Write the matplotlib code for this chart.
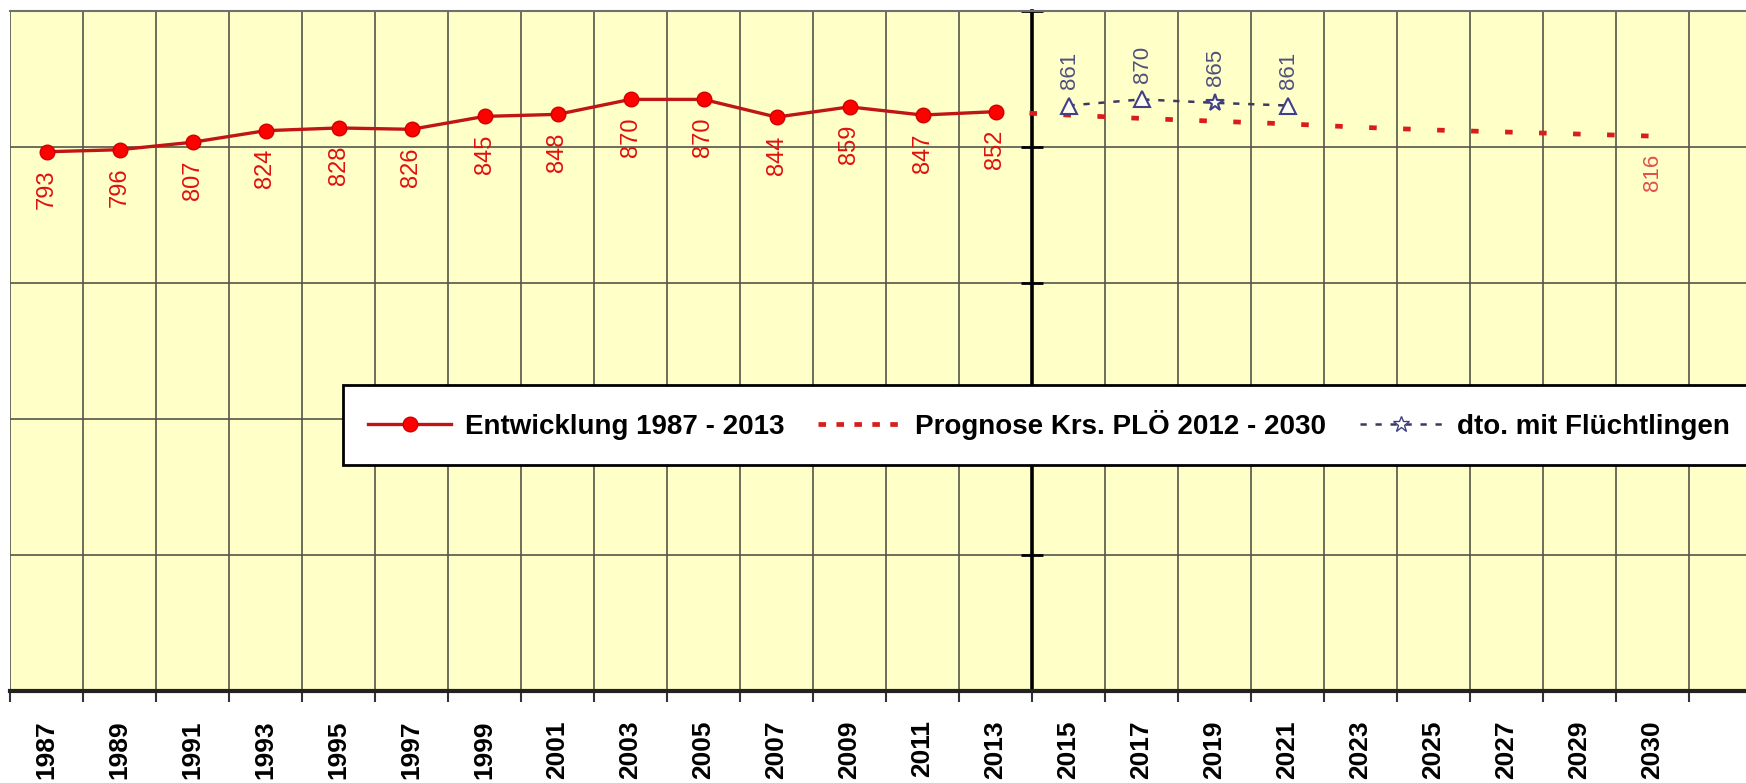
import numpy as np
import matplotlib
matplotlib.use('Agg')
import matplotlib.pyplot as plt
from matplotlib.lines import Line2D

# Kategorien (jede zweite Jahreszahl, letzte Spalte ohne Beschriftung)
jahre = ['1987', '1989', '1991', '1993', '1995', '1997', '1999', '2001',
         '2003', '2005', '2007', '2009', '2011', '2013', '2015', '2017',
         '2019', '2021', '2023', '2025', '2027', '2029', '2030', '']

# Entwicklung 1987 - 2013
entw_jahre = jahre[:14]
entwicklung = [793, 796, 807, 824, 828, 826, 845, 848, 870, 870, 844, 859, 847, 852]

# Prognose Krs. PLÖ 2012 - 2030
prog_jahre = ['2013', '2015', '2017', '2019', '2021', '2023', '2025', '2027', '2029', '2030']
prognose = [852, 847, 842, 838, 834, 829, 825, 822, 819, 816]

# dto. mit Flüchtlingen
flu_jahre = ['2015', '2017', '2019', '2021']
fluechtlinge = [861, 870, 865, 861]
flu_marker = ['^', '^', '*', '^']

plt.rcParams['font.family'] = ['Liberation Sans', 'DejaVu Sans']

W, H = 1746, 783
fig = plt.figure(figsize=(W / 100, H / 100), dpi=100)
fig.patch.set_facecolor('white')
ax = fig.add_axes([10 / W, (H - 691) / H, 1752 / W, 680 / H])
ax.set_facecolor('#FFFFC8')

pos = {j: i for i, j in enumerate(jahre)}
x_entw = [pos[j] for j in entw_jahre]
x_prog = [pos[j] for j in prog_jahre]
x_flu = [pos[j] for j in flu_jahre]

# Linien
ax.plot(x_prog, prognose, color='#D91C1C', lw=3.4, dashes=(1.6, 5.6),
        solid_capstyle='butt', dash_capstyle='butt', zorder=3)
ax.plot(x_flu, fluechtlinge, color='#3A3A60', lw=1.8, dashes=(2.5, 3.5), zorder=4)
for xi, yi, m in zip(x_flu, fluechtlinge, flu_marker):
    ax.plot(xi, yi, marker=m, ms=13 if m == '*' else 11, mfc='#FFFFF0',
            mec='#404088', mew=1.5, zorder=5)
ax.plot(x_entw, entwicklung, color='#C01515', lw=2.4, marker='o', ms=10.5,
        mfc='#FF0000', mec='#D00000', zorder=5)

# Datenbeschriftungen
for xi, yi in zip(x_entw, entwicklung):
    ax.annotate(str(yi), (xi, yi), xytext=(0, -13), textcoords='offset points',
                rotation=90, ha='center', va='top', fontsize=17, color='#E01010')
for xi, yi in zip(x_flu, fluechtlinge):
    ax.annotate(str(yi), (xi, yi), xytext=(1, 12), textcoords='offset points',
                rotation=90, ha='center', va='bottom', fontsize=16, color='#505080')
ax.annotate(str(prognose[-1]), (x_prog[-1], prognose[-1]), xytext=(0, -13),
            textcoords='offset points', rotation=90, ha='center', va='top',
            fontsize=16, color='#E05050')

# Achsen
ax.set_xlim(-0.5, len(jahre) - 0.5)
ax.set_ylim(0, 1000)
ax.set_xticks(range(len(jahre)))
ax.set_xticklabels(jahre, rotation=90, fontsize=19, fontweight='bold')
ax.set_xticks(np.arange(-0.5, len(jahre), 1), minor=True)
ax.tick_params(axis='x', which='major', length=0, pad=21)
ax.tick_params(axis='x', which='minor', length=8, width=1.5, direction='out',
               color='#333333')
ax.set_yticks(np.arange(0, 1001, 200))
ax.tick_params(axis='y', which='major', direction='inout', length=16, width=2,
               labelleft=False, color='black')
ax.grid(which='minor', axis='x', color='#55554A', lw=1.2)
ax.grid(which='major', axis='y', color='#55554A', lw=1.2)
ax.set_axisbelow(True)

ax.spines['left'].set_position(('data', 13.5))
ax.spines['left'].set_linewidth(2.6)
ax.spines['left'].set_color('black')
ax.spines['bottom'].set_linewidth(3)
ax.spines['bottom'].set_color('#222222')
ax.spines['top'].set_color('#707070')
ax.spines['top'].set_linewidth(1.5)
ax.spines['right'].set_visible(False)

# Legende
handles = [
    Line2D([], [], color='#C01515', lw=2.4, marker='o', ms=10.5, mfc='#FF0000', mec='#D00000'),
    Line2D([], [], color='#D91C1C', lw=3.4, dashes=(1.6, 2.2)),
    Line2D([], [], color='#3A3A60', lw=1.8, dashes=(2.5, 3.5), marker='*', ms=12,
           mfc='#FFFFF0', mec='#404088'),
]
labels = ['Entwicklung 1987 - 2013', 'Prognose Krs. PLÖ 2012 - 2030', 'dto. mit Flüchtlingen']
leg = ax.legend(handles, labels, loc='upper left', bbox_to_anchor=(343 / W, 1 - 385 / H),
                bbox_transform=fig.transFigure, ncol=3, prop={'weight': 'bold', 'size': 20},
                frameon=True, fancybox=False, framealpha=1, facecolor='white',
                edgecolor='black', handlelength=3.0, handletextpad=0.5,
                columnspacing=1.2, borderpad=0.9, borderaxespad=0)
leg.get_frame().set_linewidth(2)
leg.set_zorder(10)

fig.savefig('out.png', dpi=100)
